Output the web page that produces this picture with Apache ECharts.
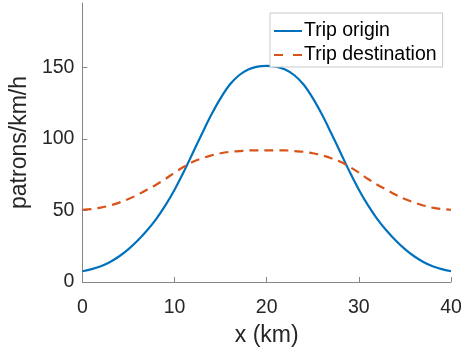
<!DOCTYPE html>
<html>
<head>
<meta charset="utf-8">
<script src="https://cdn.jsdelivr.net/npm/echarts@6/dist/echarts.min.js"></script>
<style>
  html, body { margin: 0; padding: 0; background: #fff; }
  #chart { width: 465px; height: 353px; }
</style>
</head>
<body>
<div id="chart"></div>
<script>
  // x positions in km
  var xKm = [0, 1, 2, 3, 4, 5, 6, 7, 8, 9, 10, 11, 12, 13, 14, 15, 16, 17, 18, 19, 20,
    21, 22, 23, 24, 25, 26, 27, 28, 29, 30, 31, 32, 33, 34, 35, 36, 37, 38, 39, 40]
  // values (patrons/km/h)
  var tripOrigin = [7.5, 9, 11, 14, 18, 23, 29, 36, 44, 53.5, 64.5, 77, 90.5, 104, 117, 128.5, 138, 144.5, 148.5, 150.5, 151,
    150.5, 148.5, 144.5, 138, 128.5, 117, 104, 90.5, 77, 64.5, 53.5, 44, 36, 29, 23, 18, 14, 11, 9, 7.5]
  var tripDestination = [50.5, 51, 52, 53.5, 55.5, 58, 61, 64.5, 68, 72, 76.5, 80.5, 84, 86.5, 88.5, 90, 91, 91.5, 92, 92, 92,
    92, 92, 91.5, 91, 90, 88.5, 86.5, 84, 80.5, 76.5, 72, 68, 64.5, 61, 58, 55.5, 53.5, 52, 51, 50.5]
  var yTicks = [0, 50, 100, 150]

  function pairs(ys) {
    return ys.map(function(y, i) { return [xKm[i], y] })
  }

  var font = 'Liberation Sans, Arial, Helvetica, sans-serif'
  var axisGrey = '#858585'

  var chart = echarts.init(document.getElementById('chart'))
  chart.setOption({
    animation: false,
    color: ['#0072BD', '#D95319'],
    grid: {
      left: 79,
      right: 14,
      top: 3,
      bottom: 71
    },
    legend: {
      orient: 'vertical',
      left: 270,
      top: 13,
      padding: [8, 6, 2, 3],
      itemWidth: 28,
      itemHeight: 14,
      itemGap: 4,
      itemStyle: { opacity: 0 },
      backgroundColor: '#fff',
      borderColor: '#c8c8c8',
      borderWidth: 1,
      borderRadius: 0,
      textStyle: {
        fontFamily: font,
        fontSize: 19.5,
        lineHeight: 20,
        color: '#000',
        padding: [0, 0, 0, -3]
      },
      data: [
        { name: 'Trip origin' },
        { name: 'Trip destination', lineStyle: { type: [9, 10] } }
      ]
    },
    xAxis: {
      type: 'value',
      min: 0,
      max: 40,
      interval: 10,
      name: 'x (km)',
      nameLocation: 'middle',
      nameGap: 42,
      nameTextStyle: { fontFamily: font, fontSize: 23, color: '#262626' },
      axisLine: { show: true, lineStyle: { color: axisGrey, width: 1 } },
      axisTick: { show: true, inside: true, length: 5, lineStyle: { color: axisGrey } },
      axisLabel: { fontFamily: font, fontSize: 19.5, color: '#262626', margin: 16 },
      splitLine: { show: false }
    },
    yAxis: {
      type: 'value',
      min: 0,
      max: 195,
      name: 'patrons/km/h',
      nameLocation: 'middle',
      nameGap: 42,
      nameTextStyle: { fontFamily: font, fontSize: 23, color: '#262626' },
      axisLine: { show: true, lineStyle: { color: axisGrey, width: 1 } },
      axisTick: { show: true, inside: true, length: 5, customValues: yTicks, lineStyle: { color: axisGrey } },
      axisLabel: { fontFamily: font, fontSize: 19.5, color: '#262626', margin: 8, customValues: yTicks },
      splitLine: { show: false }
    },
    series: [
      {
        name: 'Trip origin',
        type: 'line',
        smooth: 0.35,
        symbol: 'none',
        lineStyle: { width: 2.2, color: '#0072BD' },
        itemStyle: { color: '#0072BD' },
        data: pairs(tripOrigin)
      },
      {
        name: 'Trip destination',
        type: 'line',
        smooth: 0.35,
        symbol: 'none',
        lineStyle: { width: 2.2, color: '#D95319', type: [9, 6] },
        itemStyle: { color: '#D95319' },
        data: pairs(tripDestination)
      }
    ]
  })
</script>
</body>
</html>
